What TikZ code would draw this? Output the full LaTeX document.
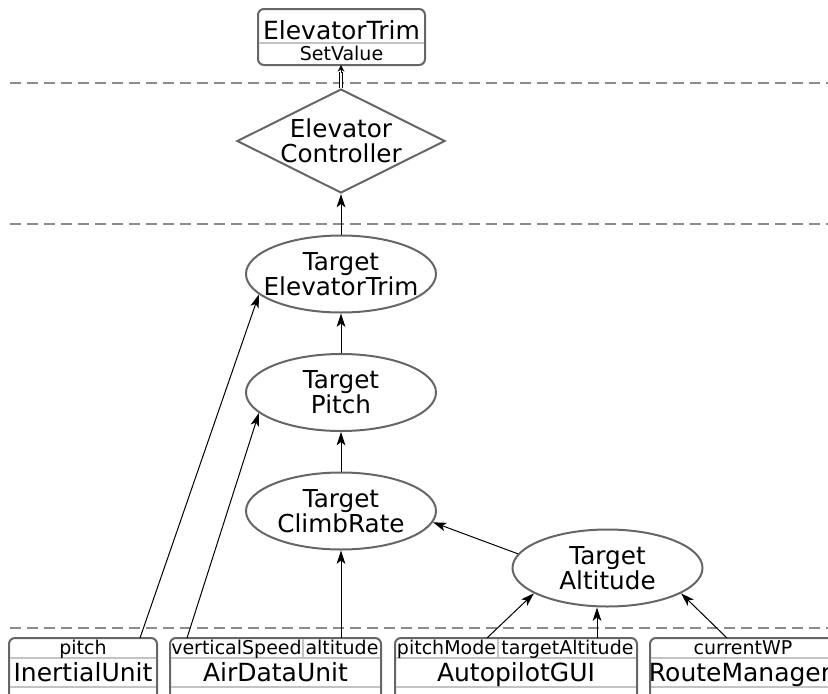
\documentclass[tikz,border=0pt]{standalone}
\usepackage{fontspec}
\setmainfont{DejaVu Sans}
\usetikzlibrary{arrows.meta, shapes.geometric, positioning, calc}
\definecolor{bordergray}{RGB}{102,102,102}
\definecolor{dashgray}{RGB}{140,140,140}
\definecolor{sepgray}{RGB}{195,195,195}

\tikzset{
  goal/.style={ellipse, draw=bordergray, line width=1.5pt, minimum width=142.5pt, minimum height=57.75pt, inner sep=0pt},
  ctrl/.style={diamond, draw=bordergray, line width=1.5pt, minimum width=156pt, minimum height=78pt, inner sep=0pt},
  bigtext/.style={align=center, font=\fontsize{18.5}{18.75}\selectfont, inner sep=0pt},
  nametext/.style={anchor=base, font=\fontsize{18.75}{20}\selectfont, inner sep=0pt},
  porttext/.style={anchor=base, font=\fontsize{14.25}{15}\selectfont, inner sep=0pt},
  unitbox/.style={draw=bordergray, line width=1.5pt, rounded corners=4.5pt},
  sep/.style={draw=sepgray, line width=1.2pt},
  layer/.style={draw=dashgray, line width=1.5pt, dash pattern=on 8.25pt off 4.5pt},
  flow/.style={-{Stealth[length=10pt,width=6.5pt,inset=2.5pt]}, line width=0.75pt},
}

\begin{document}
\begin{tikzpicture}[x=0.75pt,y=0.75pt,yscale=-1,xscale=1]
	\useasboundingbox (0,0) rectangle (828,693);
	\clip (0,0) rectangle (828,693);

	%Layer separators
	\draw[layer] (10,83) -- (828,83);
	\draw[layer] (10,224) -- (828,224);
	\draw[layer] (10,628) -- (828,628);

	%Shape: ElevatorTrim box
	\draw[unitbox] (258,9) rectangle (425,65);
	\draw[sep] (259,43) -- (424,43);
	\node[nametext] (et-name) at (341.5,39) {ElevatorTrim};
	\node[porttext] (et-set) at (341.5,60) {SetValue};
	\coordinate (et-in) at (341,65);

	%Shape: controller and goals
	\node[ctrl] (ec) at (341,141) {};
	\node[bigtext] (ec-txt) at (ec) {Elevator\\Controller};
	\node[goal] (tet) at (341,274) {};
	\node[bigtext] (tet-txt) at (tet) {Target\\ElevatorTrim};
	\node[goal] (tp) at (341,392.5) {};
	\node[bigtext] (tp-txt) at (tp) {Target\\Pitch};
	\node[goal] (tcr) at (341,511) {};
	\node[bigtext] (tcr-txt) at (tcr) {Target\\ClimbRate};
	\node[goal] (ta) at (607.5,568) {};
	\node[bigtext] (ta-txt) at (ta) {Target\\Altitude};

	%Shape: InertialUnit box
	\draw[unitbox] (9,638) rectangle (157,710);
	\draw[sep] (10,658) -- (156,658);
	\draw[sep] (10,687) -- (156,687);
	\node[porttext] (iu-p) at (83,654) {pitch};
	\node[nametext] (iu-name) at (83,681) {InertialUnit};
	\coordinate (iu-pitch) at (140,638);

	%Shape: AirDataUnit box
	\draw[unitbox] (170,638) rectangle (381,710);
	\draw[sep] (171,658) -- (380,658);
	\draw[sep] (171,687) -- (380,687);
	\draw[sep] (303,639) -- (303,658);
	\node[porttext] (adu-p1) at (236.5,654) {verticalSpeed};
	\node[porttext] (adu-p2) at (342,654) {altitude};
	\node[nametext] (adu-name) at (275.5,681) {AirDataUnit};
	\coordinate (adu-vs) at (187,638);
	\coordinate (adu-alt) at (341,638);

	%Shape: AutopilotGUI box
	\draw[unitbox] (395,638) rectangle (637,710);
	\draw[sep] (396,658) -- (636,658);
	\draw[sep] (396,687) -- (636,687);
	\draw[sep] (498,639) -- (498,658);
	\node[porttext] (apg-p1) at (446.5,654) {pitchMode};
	\node[porttext] (apg-p2) at (567.5,654) {targetAltitude};
	\node[nametext] (apg-name) at (516,681) {AutopilotGUI};
	\coordinate (apg-pm) at (487,638);
	\coordinate (apg-ta) at (597,638);

	%Shape: RouteManager box
	\draw[unitbox] (650,638) rectangle (836,710);
	\draw[sep] (651,658) -- (835,658);
	\draw[sep] (651,687) -- (835,687);
	\node[porttext] (rm-p) at (743,654) {currentWP};
	\node[nametext] (rm-name) at (740,681) {RouteManager};
	\coordinate (rm-wp) at (727,638);

	%Connectors
	\draw[double, double distance=1.2pt, line width=0.6pt] (ec.north) -- ($(et-in)+(0,7)$);
	\draw[-{Stealth[length=5pt,width=5pt]}, line width=0.75pt] ($(et-in)+(0,8)$) -- (et-in);
	\draw[flow] (tet.north) -- (ec.south);
	\draw[flow] (tp.north) -- (tet.south);
	\draw[flow] (tcr.north) -- (tp.south);
	\draw[flow] (ta.171) -- (tcr.353);
	\draw[flow] (iu-pitch) -- (tet.194);
	\draw[flow] (adu-vs) -- (tp.194);
	\draw[flow] (adu-alt) -- (adu-alt |- tcr.south);
	\draw[flow] (apg-pm) -- (ta.199);
	\draw[flow] (apg-ta) -- (apg-ta |- ta.south);
	\draw[flow] (rm-wp) -- (ta.341);
\end{tikzpicture}
\end{document}
